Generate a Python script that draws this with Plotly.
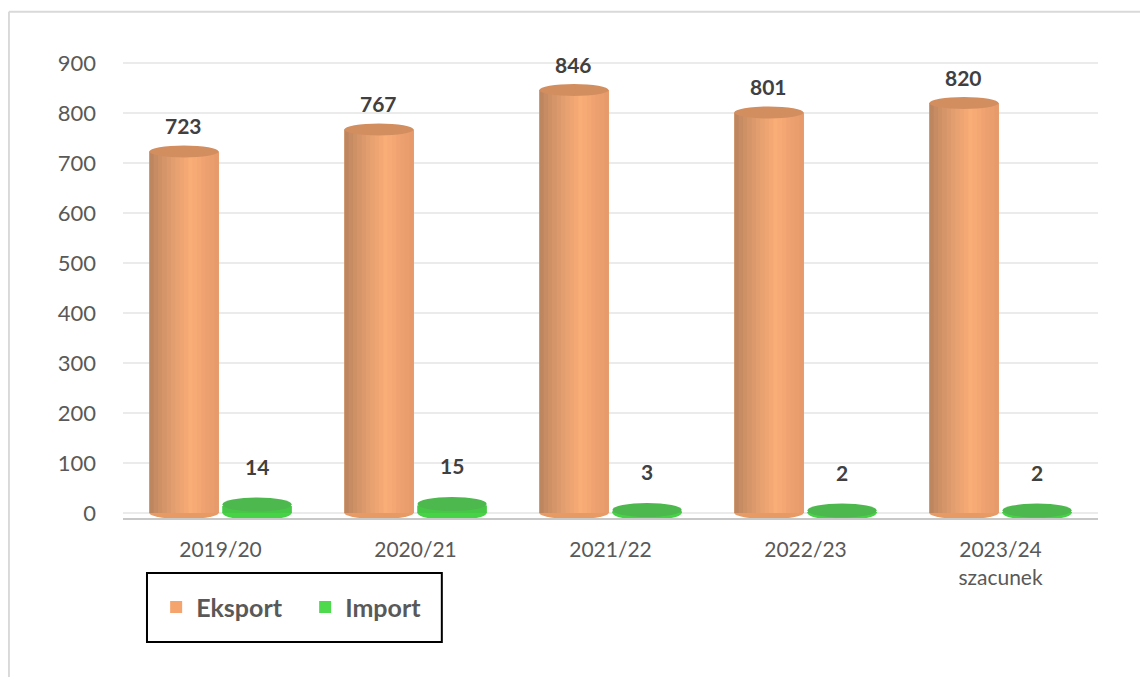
import plotly.graph_objects as go

# ---- data ----
categories = ["2019/20", "2020/21", "2021/22", "2022/23", "2023/24<br>szacunek"]
eksport = [723, 767, 846, 801, 820]
import_vals = [14, 15, 3, 2, 2]
y_ticks = [0, 100, 200, 300, 400, 500, 600, 700, 800, 900]

# ---- style ----
ORANGE = "#F4A46C"
GREEN = "#4FD94F"
TXT = "#595959"
LBL = "#404040"
FONT = "Lato"

BAR_W = 0.355
EXP_OFF = -0.365
IMP_OFF = 0.01

fig = go.Figure()
fig.add_trace(go.Bar(name="Eksport", x=list(range(len(categories))), y=eksport,
                     width=BAR_W, offset=EXP_OFF, marker=dict(color=ORANGE, line=dict(width=0)),
                     base=0))
fig.add_trace(go.Bar(name="Import", x=list(range(len(categories))), y=import_vals,
                     width=BAR_W, offset=IMP_OFF, marker=dict(color=GREEN, line=dict(width=0)),
                     base=0))


def lerp(c1, c2, t):
    a = [int(c1[i:i + 2], 16) for i in (1, 3, 5)]
    b = [int(c2[i:i + 2], 16) for i in (1, 3, 5)]
    return "#%02x%02x%02x" % tuple(round(a[k] + (b[k] - a[k]) * t) for k in range(3))


def shade(dark, light, edge, t):
    # cylinder shading: dark left edge -> light at ~60% -> slightly darker right edge
    if t < 0.6:
        return lerp(dark, light, (t / 0.6) ** 0.8)
    return lerp(light, edge, (t - 0.6) / 0.4)


shapes = []
N = 16
for i, v in enumerate(eksport):
    x0 = i + EXP_OFF
    # bottom rounding
    shapes.append(dict(type="circle", xref="x", yref="y", x0=x0, x1=x0 + BAR_W,
                       y0=-12, y1=12, fillcolor="#E89A64", line=dict(width=0), layer="above"))
    for k in range(N):
        t = (k + 0.5) / N
        shapes.append(dict(type="rect", xref="x", yref="y",
                           x0=x0 + BAR_W * k / N, x1=x0 + BAR_W * (k + 1) / N + 0.002,
                           y0=0, y1=v, fillcolor=shade("#B8825D", "#FAAD77", "#E5986A", t),
                           line=dict(width=0), layer="above"))
    # top ellipse
    shapes.append(dict(type="circle", xref="x", yref="y", x0=x0, x1=x0 + BAR_W,
                       y0=v - 12, y1=v + 12, fillcolor="#D38E60", line=dict(width=0), layer="above"))

for i, v in enumerate(import_vals):
    x0 = i + IMP_OFF
    shapes.append(dict(type="circle", xref="x", yref="y", x0=x0, x1=x0 + BAR_W,
                       y0=-14, y1=14, fillcolor="#46D446", line=dict(width=0), layer="above"))
    shapes.append(dict(type="rect", xref="x", yref="y", x0=x0, x1=x0 + BAR_W,
                       y0=0, y1=v, fillcolor="#46C846", line=dict(width=0), layer="above"))
    shapes.append(dict(type="circle", xref="x", yref="y", x0=x0, x1=x0 + BAR_W,
                       y0=v - 14 + 3, y1=v + 14 + 3, fillcolor="#4DB84D", line=dict(width=0), layer="above"))

# legend box
shapes.append(dict(type="rect", xref="paper", yref="paper", x0=0.0246, x1=0.327,
                   y0=-0.261, y1=-0.116, line=dict(color="black", width=2), fillcolor="rgba(0,0,0,0)"))
# outer chart border (left + top)
shapes.append(dict(type="line", xref="paper", yref="paper", x0=-0.117, x1=-0.117, y0=-0.40, y1=1.066,
                   line=dict(color="#D9D9D9", width=2)))
shapes.append(dict(type="line", xref="paper", yref="paper", x0=-0.117, x1=1.06, y0=1.066, y1=1.066,
                   line=dict(color="#D9D9D9", width=2)))

annotations = []
for i, v in enumerate(eksport):
    annotations.append(dict(x=i + EXP_OFF + BAR_W / 2, y=v, xref="x", yref="y", text=f"<b>{v}</b>",
                            showarrow=False, yshift=26, font=dict(family=FONT, size=21, color=LBL)))
for i, v in enumerate(import_vals):
    annotations.append(dict(x=i + IMP_OFF + BAR_W / 2, y=v, xref="x", yref="y", text=f"<b>{v}</b>",
                            showarrow=False, yshift=40, font=dict(family=FONT, size=21, color=LBL)))

# page body has an 8px margin, so the figure is drawn 8px smaller and offset
fig.update_layout(
    width=1140, height=669,
    margin=dict(l=115, r=50, t=35, b=159),
    paper_bgcolor="white", plot_bgcolor="white",
    barmode="overlay",
    showlegend=True,
    legend=dict(orientation="h", x=0.034, y=-0.188, xanchor="left", yanchor="middle",
                font=dict(family=FONT, size=25, color=TXT, weight="bold"),
                entrywidth=104, entrywidthmode="pixels",
                bgcolor="rgba(0,0,0,0)", borderwidth=0, itemclick=False),
    shapes=shapes,
    annotations=annotations,
    font=dict(family=FONT, color=TXT),
)
fig.update_xaxes(
    automargin=False,
    tickmode="array", tickvals=list(range(len(categories))), ticktext=categories,
    range=[-0.5, len(categories) - 0.5],
    showline=True, linecolor="#C8C8C8", linewidth=2, showgrid=False, ticks="",
    tickfont=dict(family=FONT, size=21, color=TXT), ticklabelstandoff=12,
)
fig.update_yaxes(
    automargin=False,
    range=[-10, 940], tickmode="array", tickvals=y_ticks,
    showgrid=True, gridcolor="#EBEBEB", gridwidth=2, zeroline=False, showline=False,
    tickfont=dict(family=FONT, size=22, color=TXT), ticklabelstandoff=26,
)

fig.write_html("out.html")
